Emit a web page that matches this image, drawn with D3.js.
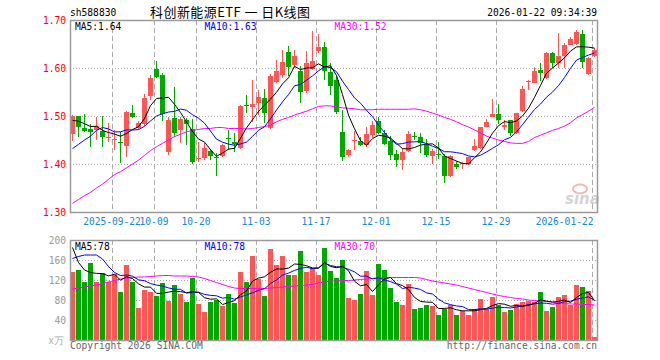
<!DOCTYPE html>
<html><head><meta charset="utf-8">
<script src="https://cdn.jsdelivr.net/npm/d3@7"></script>
<style>body{margin:0;background:#fff}svg{display:block}</style>
</head><body><svg id="c" width="660" height="360"></svg>
<script>
// ---------- data ----------
const dates = ["09-11","09-12","09-15","09-16","09-17","09-18","09-19","09-22","09-23","09-24",
"09-25","09-26","09-29","09-30","10-09","10-10","10-13","10-14","10-15","10-16",
"10-17","10-20","10-21","10-22","10-23","10-24","10-27","10-28","10-29","10-30",
"10-31","11-03","11-04","11-05","11-06","11-07","11-10","11-11","11-12","11-13",
"11-14","11-17","11-18","11-19","11-20","11-21","11-24","11-25","11-26","11-27",
"11-28","12-01","12-02","12-03","12-04","12-05","12-08","12-09","12-10","12-11",
"12-12","12-15","12-16","12-17","12-18","12-19","12-22","12-23","12-24","12-25",
"12-26","12-29","12-30","12-31","01-05","01-06","01-07","01-08","01-09","01-12",
"01-13","01-14","01-15","01-16","01-19","01-20","01-21","01-22"];
const openP = [1.463,1.499,1.476,1.472,1.471,1.468,1.454,1.450,1.445,1.438,
1.506,1.476,1.483,1.542,1.598,1.585,1.424,1.495,1.471,1.492,
1.473,1.411,1.412,1.428,1.414,1.417,1.454,1.446,1.433,1.522,
1.519,1.527,1.537,1.475,1.571,1.586,1.634,1.606,1.593,1.552,
1.598,1.636,1.644,1.591,1.575,1.467,1.418,1.447,1.447,1.439,
1.460,1.489,1.464,1.447,1.421,1.409,1.427,1.458,1.456,1.440,
1.416,1.420,1.417,1.374,1.401,1.399,1.399,1.430,1.433,1.478,
1.497,1.505,1.477,1.491,1.465,1.510,1.570,1.569,1.596,1.579,
1.632,1.611,1.626,1.648,1.650,1.671,1.588,1.626];
const highP = [1.503,1.500,1.504,1.484,1.497,1.500,1.485,1.471,1.467,1.510,
1.523,1.490,1.546,1.585,1.615,1.590,1.497,1.561,1.497,1.496,
1.493,1.446,1.443,1.432,1.422,1.442,1.470,1.465,1.523,1.544,
1.576,1.555,1.557,1.588,1.617,1.637,1.646,1.638,1.605,1.635,
1.678,1.670,1.655,1.610,1.583,1.513,1.432,1.468,1.457,1.477,
1.490,1.497,1.470,1.458,1.430,1.433,1.468,1.466,1.464,1.452,
1.432,1.445,1.420,1.418,1.407,1.405,1.415,1.453,1.477,1.493,
1.535,1.526,1.492,1.492,1.507,1.563,1.575,1.603,1.610,1.633,
1.634,1.673,1.652,1.665,1.679,1.680,1.623,1.642];
const lowP = [1.447,1.456,1.466,1.436,1.450,1.435,1.446,1.429,1.403,1.415,
1.496,1.473,1.480,1.533,1.579,1.490,1.419,1.456,1.443,1.440,
1.400,1.405,1.408,1.409,1.374,1.414,1.430,1.424,1.431,1.507,
1.487,1.503,1.485,1.472,1.568,1.580,1.583,1.600,1.527,1.548,
1.595,1.631,1.575,1.544,1.505,1.407,1.415,1.430,1.437,1.436,
1.455,1.462,1.440,1.409,1.393,1.388,1.426,1.449,1.422,1.415,
1.399,1.410,1.361,1.372,1.390,1.389,1.398,1.428,1.432,1.477,
1.497,1.484,1.470,1.458,1.463,1.508,1.555,1.568,1.572,1.578,
1.600,1.600,1.600,1.647,1.648,1.599,1.586,1.622];
const closeP = [1.500,1.478,1.469,1.467,1.479,1.457,1.456,1.453,1.444,1.508,
1.498,1.485,1.538,1.579,1.582,1.504,1.492,1.465,1.494,1.483,
1.405,1.413,1.433,1.416,1.413,1.440,1.453,1.441,1.521,1.521,
1.525,1.539,1.507,1.583,1.593,1.612,1.603,1.626,1.549,1.610,
1.614,1.644,1.593,1.563,1.509,1.414,1.430,1.451,1.439,1.462,
1.482,1.465,1.442,1.419,1.409,1.425,1.462,1.457,1.444,1.419,
1.428,1.419,1.374,1.417,1.393,1.403,1.414,1.438,1.477,1.488,
1.504,1.492,1.481,1.465,1.506,1.556,1.573,1.594,1.590,1.632,
1.610,1.626,1.648,1.660,1.676,1.612,1.621,1.638];
const volume = [137,140,117,155,117,135,117,133,97,150,
117,65,100,97,88,115,79,110,92,77,
125,72,57,77,80,69,92,75,137,117,
168,122,88,182,150,168,130,130,178,137,
145,130,185,138,125,160,85,80,92,138,
90,152,140,105,77,70,112,62,65,70,
68,50,63,71,50,58,50,63,82,63,
86,70,57,61,72,77,79,77,97,59,
67,87,90,71,110,106,99,7];
// moving-average values before enough history is visible
const ma5Head = [1.491,1.489,1.484,1.478];
const ma10Head = [1.432,1.441,1.450,1.458,1.470,1.476,1.473,1.467,1.467];
const ma30 = [1.318,1.326,1.334,1.341,1.350,1.358,1.368,1.378,1.384,1.392,
1.400,1.408,1.418,1.428,1.436,1.443,1.450,1.457,1.462,1.467,
1.470,1.472,1.474,1.474,1.476,1.476,1.474,1.474,1.474,1.473,
1.474,1.476,1.478,1.481,1.488,1.493,1.497,1.502,1.506,1.510,
1.515,1.520,1.521,1.521,1.519,1.517,1.516,1.515,1.513,1.513,
1.513,1.514,1.514,1.514,1.514,1.514,1.514,1.515,1.513,1.510,
1.506,1.502,1.497,1.493,1.488,1.482,1.477,1.471,1.465,1.458,
1.454,1.450,1.447,1.444,1.443,1.443,1.447,1.455,1.460,1.465,
1.470,1.474,1.479,1.486,1.496,1.503,1.510,1.518];
const volMa5Head = [185,155,140,135];
const volMa10Head = [163,167,170,170,170,162,147,135,129];
const volMa30 = [102,104,106,108,110,113,116,119,122,124,
125,126,126,127,128,129,129,128,128,128,
127,126,123,119,115,111,107,104,103,103,
103,103,103,104,105,106,107,108,109,110,
111,114,116,118,118,119,119,120,121,122,
123,124,124,125,125,125,125,125,124,121,
118,116,114,112,110,107,104,101,98,95,
92,89,87,85,83,82,80,79,78,77,
76,74,73,72,72,71,71,70];
const tickDates = ["09-22","10-09","10-20","11-03","11-17","12-01","12-15","12-29","01-22"];
const tickLabels = ["2025-09-22","10-09","10-20","11-03","11-17","12-01","12-15","12-29","2026-01-22"];
const priceTicks = [1.30,1.40,1.50,1.60,1.70];
const priceGrid = [1.40,1.50,1.60];
const volTicks = [40,80,120,160,200];
const volGrid = [40,80,120,160];
const maLabels = {price:["MA5:1.64","MA10:1.63","MA30:1.52"], vol:["MA5:78","MA10:78","MA30:70"]};
const titleText = "科创新能源ETF 一 日K线图";
const codeText = "sh588830";
const timeText = "2026-01-22 09:34:39";

// ---------- helpers ----------
function rolling(arr, n, head){
  return arr.map((v,i)=> i < n-1 ? head[i] : d3.mean(arr.slice(i-n+1,i+1)));
}
const ma5 = rolling(closeP,5,ma5Head), ma10 = rolling(closeP,10,ma10Head);
const vma5 = rolling(volume,5,volMa5Head), vma10 = rolling(volume,10,volMa10Head);

const data = dates.map((d,i)=>({d,o:openP[i],h:highP[i],l:lowP[i],c:closeP[i],v:volume[i]}));

// ---------- layout ----------
const L=70, R=597, PT=20, PB=212, VT=240, VB=340;
const MONO = "'DejaVu Sans Mono', monospace";
const FS = "9.6px";
const RED="#ff5555", GREEN="#00a800", GRID="#aaaaaa", BORDER="#9a9a9a";

const svg = d3.select("#c");
const x = d3.scaleBand().domain(dates).range([L,R]).paddingInner(1/6).paddingOuter(0);
const y = d3.scaleLinear().domain([1.30,1.70]).range([PB,PT]);
const yv = d3.scaleLinear().domain([0,200]).range([VB,VT]);
const cx = d => x(d)+x.bandwidth()/2;

// grid
const g = svg.append("g").attr("shape-rendering","crispEdges");
g.selectAll(".hp").data(priceGrid).join("line")
  .attr("x1",L).attr("x2",R).attr("y1",d=>Math.round(y(d))+0.5).attr("y2",d=>Math.round(y(d))+0.5)
  .attr("stroke",GRID).attr("stroke-dasharray","1,2");
g.selectAll(".hv").data(volGrid).join("line")
  .attr("x1",L).attr("x2",R).attr("y1",d=>Math.round(yv(d))+0.5).attr("y2",d=>Math.round(yv(d))+0.5)
  .attr("stroke",GRID).attr("stroke-dasharray","1,2");
[[PT,PB],[VT,VB]].forEach(([t,b])=>{
  g.append("g").selectAll("line").data(tickDates).join("line")
   .attr("x1",d=>x(d)+0.5).attr("x2",d=>x(d)+0.5).attr("y1",t).attr("y2",b)
   .attr("stroke",GRID).attr("stroke-dasharray","5,3");
});

// watermark
const wm = svg.append("g");
wm.append("ellipse").attr("cx",580).attr("cy",189).attr("rx",7).attr("ry",4.5)
  .attr("fill","none").attr("stroke","#f2b8b8").attr("stroke-width",2);
wm.append("text").attr("x",565).attr("y",204).text("sina")
  .attr("font-family","'DejaVu Sans', sans-serif").attr("font-weight","bold").attr("font-style","italic")
  .attr("font-size","15px").attr("fill","#d4d4d4");

// candles
const cg = svg.append("g").attr("shape-rendering","crispEdges");
cg.selectAll("line").data(data).join("line")
  .attr("x1",d=>cx(d.d)).attr("x2",d=>cx(d.d))
  .attr("y1",d=>y(d.h)).attr("y2",d=>y(d.l))
  .attr("stroke",d=>d.c>=d.o?RED:GREEN);
cg.selectAll("rect").data(data).join("rect")
  .attr("x",d=>x(d.d)).attr("width",x.bandwidth())
  .attr("y",d=>y(Math.max(d.o,d.c)))
  .attr("height",d=>Math.max(1,Math.abs(y(d.o)-y(d.c))))
  .attr("fill",d=>d.c>=d.o?RED:GREEN);

// volume bars
const vg = svg.append("g").attr("shape-rendering","crispEdges");
vg.selectAll("rect").data(data).join("rect")
  .attr("x",d=>x(d.d)).attr("width",x.bandwidth())
  .attr("y",d=>yv(d.v)).attr("height",d=>VB-yv(d.v))
  .attr("fill",d=>d.c>=d.o?RED:GREEN);

// MA lines
function maLine(vals, scale, color){
  svg.append("path").datum(vals)
    .attr("d", d3.line().x((v,i)=>cx(dates[i])).y(v=>scale(v)))
    .attr("fill","none").attr("stroke",color).attr("stroke-width",1);
}
maLine(ma30,y,"#ff00ff"); maLine(ma10,y,"#0000ff"); maLine(ma5,y,"#000000");
maLine(volMa30,yv,"#ff00ff"); maLine(vma10,yv,"#0000ff"); maLine(vma5,yv,"#000000");

// borders
[[PT,PB],[VT,VB]].forEach(([t,b])=>{
  svg.append("rect").attr("x",L+0.5).attr("y",t+0.5).attr("width",R-L).attr("height",b-t)
    .attr("fill","none").attr("stroke",BORDER).attr("stroke-width",1.5);
});

// axes
const ax1 = svg.append("g").attr("transform",`translate(${L},0)`)
  .call(d3.axisLeft(y).tickValues(priceTicks).tickSize(0).tickPadding(4).tickFormat(d3.format(".2f")));
ax1.select(".domain").remove();
ax1.selectAll("text").attr("fill","#ff0000").attr("font-family",MONO).attr("font-size",FS).attr("dy","0.38em");

const ax2 = svg.append("g").attr("transform",`translate(${L},0)`)
  .call(d3.axisLeft(yv).tickValues(volTicks).tickSize(0).tickPadding(4));
ax2.select(".domain").remove();
ax2.selectAll("text").attr("fill","#999999").attr("font-family",MONO).attr("font-size",FS).attr("dy","0.35em");

const labelOf = d => tickLabels[tickDates.indexOf(d)];
const ax3 = svg.append("g").attr("transform",`translate(${-x.bandwidth()/2},${PB})`)
  .call(d3.axisBottom(x).tickValues(tickDates).tickSize(0).tickPadding(6).tickFormat(labelOf));
ax3.select(".domain").remove();
ax3.selectAll("text").attr("fill","#1a86d4").attr("font-family",MONO).attr("font-size",FS);
ax3.selectAll("text").filter(d=>d===tickDates[tickDates.length-1]).attr("text-anchor","end").attr("x",x.bandwidth()/2-1);

// texts
const t = (xx,yy,s,fill,anchor,fam,size)=>svg.append("text").attr("x",xx).attr("y",yy).text(s)
  .attr("fill",fill).attr("text-anchor",anchor||"start").attr("font-family",fam||MONO).attr("font-size",size||FS);
t(70,16,codeText,"#000");
t(150,17,titleText,"#000","start","'Noto Sans CJK SC', sans-serif","13px")
  .attr("xml:space","preserve").attr("textLength",160).attr("lengthAdjust","spacing");
t(597,16,timeText,"#000","end");
const maCols = ["#000000","#0000ff","#ff00ff"], maX=[75,204.5,334.5];
maLabels.price.forEach((s,i)=>t(maX[i],29.5,s,maCols[i]));
maLabels.vol.forEach((s,i)=>t(maX[i],249.5,s,maCols[i]));
t(64,344,"x万","#aaaaaa","end");
t(70,348.5,"Copyright 2026 SINA.COM","#666666");
t(597,348.5,"http://finance.sina.com.cn","#666666","end");
</script></body></html>
